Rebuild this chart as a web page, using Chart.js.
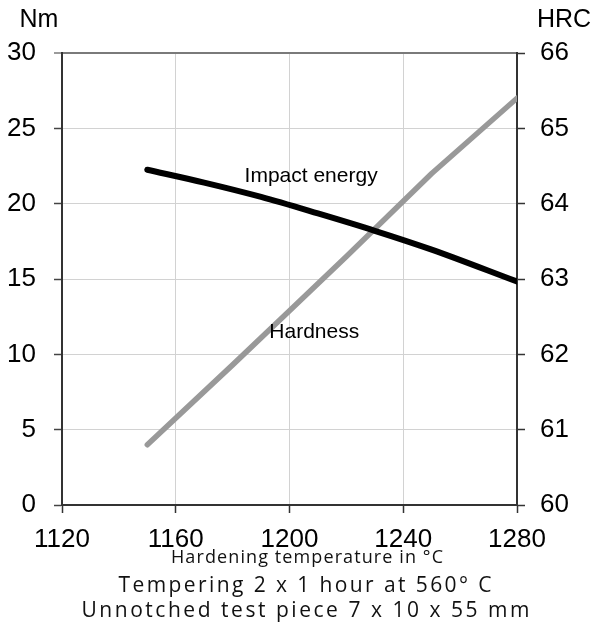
<!DOCTYPE html>
<html>
<head>
<meta charset="utf-8">
<script src="https://cdn.jsdelivr.net/npm/chart.js@4/dist/chart.umd.min.js"></script>
<style>
  html, body { margin: 0; padding: 0; background: #fff; }
  #wrap { position: relative; width: 595px; height: 624px; }
</style>
</head>
<body>
<div id="wrap"><canvas id="c" width="595" height="624"></canvas></div>
<script>
// ---- data ----
const temperatures = [1150, 1170, 1190, 1210, 1230, 1250, 1280];
const impactEnergy = [22.25, 21.4, 20.45, 19.35, 18.2, 16.95, 14.83];
const hardnessTemps = [1150, 1180, 1200, 1220, 1250, 1280];
const hardness = [60.8, 61.86, 62.58, 63.3, 64.4, 65.4];
const xTicks = [1120, 1160, 1200, 1240, 1280];
const nmTicks = [0, 5, 10, 15, 20, 25, 30];
const hrcTicks = [60, 61, 62, 63, 64, 65, 66];

const FONT = "'Liberation Sans', Arial, sans-serif";
const SUBFONT = "'Open Sans', 'DejaVu Sans', sans-serif";

const textPlugin = {
  id: 'texts',
  afterDraw(chart) {
    const ctx = chart.ctx;
    const xs = chart.scales.x, ys = chart.scales.y;
    ctx.save();
    ctx.fillStyle = '#000';
    ctx.textBaseline = 'alphabetic';
    ctx.textAlign = 'center';
    ctx.font = '25px ' + FONT;
    ctx.fillText('Nm', 39, 26.7);
    ctx.fillText('HRC', 564, 26.7);
    ctx.font = '21px ' + FONT;
    ctx.fillText('Impact energy', xs.getPixelForValue(1207.6), ys.getPixelForValue(21.46));
    ctx.fillText('Hardness', xs.getPixelForValue(1208.7), ys.getPixelForValue(11.06));
    const spaced = (txt, size, cx, base, width, color) => {
      ctx.font = size + 'px ' + SUBFONT;
      ctx.fillStyle = color;
      ctx.letterSpacing = '0px';
      const w = ctx.measureText(txt).width;
      const ls = (width - w) / (txt.length - 1);
      ctx.letterSpacing = ls + 'px';
      ctx.textAlign = 'left';
      ctx.fillText(txt, cx - width / 2, base);
      ctx.letterSpacing = '0px';
    };
    spaced('Hardening temperature in °C', 18, 307, 562.7, 272, '#111');
    spaced('Tempering 2 x 1 hour at 560° C', 21, 305, 591.7, 373, '#111');
    spaced('Unnotched test piece 7 x 10 x 55 mm', 21, 305.5, 616.7, 448, '#111');
    ctx.restore();
  }
};

new Chart(document.getElementById('c'), {
  type: 'line',
  data: {
    datasets: [
      {
        label: 'Impact energy',
        data: temperatures.map((t, i) => ({ x: t, y: impactEnergy[i] })),
        borderColor: '#000',
        borderWidth: 6,
        borderCapStyle: 'round',
        borderJoinStyle: 'round',
        cubicInterpolationMode: 'monotone',
        pointRadius: 0,
        yAxisID: 'y'
      },
      {
        label: 'Hardness',
        data: hardnessTemps.map((t, i) => ({ x: t, y: hardness[i] })),
        borderColor: '#999999',
        borderWidth: 5.5,
        borderCapStyle: 'round',
        borderJoinStyle: 'round',
        pointRadius: 0,
        yAxisID: 'y2'
      }
    ]
  },
  options: {
    responsive: false,
    animation: false,
    devicePixelRatio: 1,
    layout: { padding: { top: 53, bottom: 0, left: 0, right: 0 } },
    plugins: { legend: { display: false }, tooltip: { enabled: false } },
    scales: {
      x: {
        type: 'linear',
        min: xTicks[0], max: xTicks[xTicks.length - 1],
        afterBuildTicks: s => { s.ticks = xTicks.map(v => ({ value: v })); },
        afterFit: s => { s.height = 119; },
        border: { color: '#333', width: 2 },
        grid: {
          color: c => (c.tick && (c.tick.value === 1120 || c.tick.value === 1280)) ? 'rgba(0,0,0,0)' : '#d2d2d2',
          lineWidth: 1,
          tickColor: '#333',
          tickLength: 8,
          tickWidth: 1.5
        },
        ticks: { color: '#000', font: { family: FONT, size: 26 }, padding: 11, maxRotation: 0,
                 callback: v => String(v) }
      },
      y: {
        position: 'left',
        min: 0, max: 30,
        afterBuildTicks: s => { s.ticks = nmTicks.map(v => ({ value: v })); },
        afterFit: s => { s.width = 62; },
        border: { color: '#333', width: 2 },
        grid: {
          color: c => (c.tick && c.tick.value === 30) ? '#7a7a7a' : '#d2d2d2',
          lineWidth: c => (c.tick && c.tick.value === 30) ? 2 : 1,
          tickColor: c => (c.tick && c.tick.value === 30) ? '#7a7a7a' : '#444',
          tickLength: 8,
          tickWidth: 1.5
        },
        ticks: { color: '#000', font: { family: FONT, size: 26 }, padding: 18 }
      },
      y2: {
        position: 'right',
        min: 60, max: 66,
        afterBuildTicks: s => { s.ticks = hrcTicks.map(v => ({ value: v })); },
        afterFit: s => { s.width = 78; },
        border: { color: '#333', width: 2 },
        grid: { drawOnChartArea: false, tickColor: '#333', tickLength: 8, tickWidth: 1.5 },
        ticks: { color: '#000', font: { family: FONT, size: 26 }, padding: 15 }
      }
    }
  },
  plugins: [textPlugin]
});
</script>
</body>
</html>
